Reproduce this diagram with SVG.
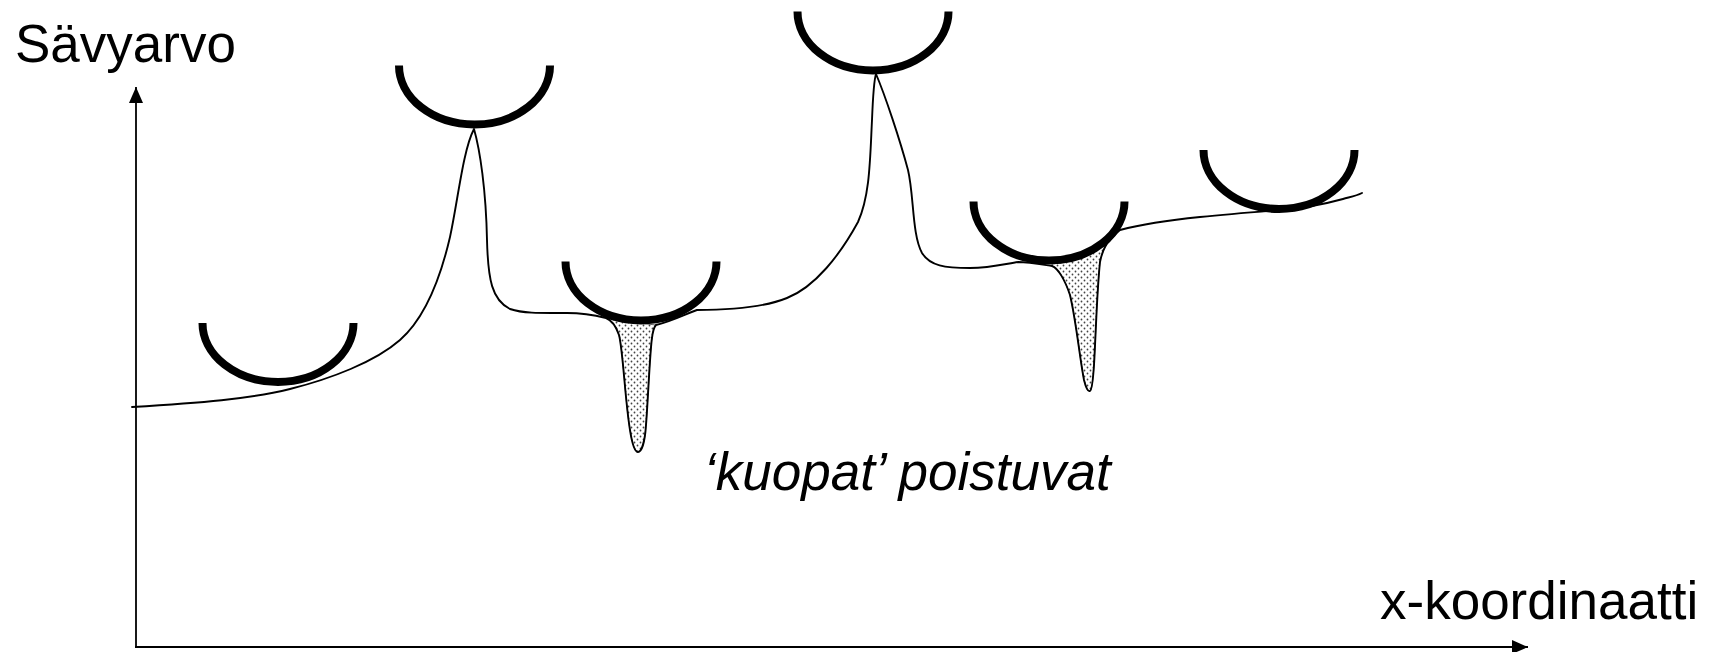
<svg xmlns="http://www.w3.org/2000/svg" width="1713" height="652" viewBox="0 0 1713 652">
  <style>
    .lbl { font-family: "Liberation Sans", Arial, sans-serif; font-size: 53px; fill: #000; }
    .ital { font-style: italic; }
    .axis { stroke: #000; stroke-width: 1.8; fill: none; }
    .curve { stroke: #000; stroke-width: 1.9; fill: none; stroke-linejoin: round; stroke-linecap: round; }
    .ball { stroke: #000; stroke-width: 8; fill: none; stroke-linecap: butt; }
    .pit { fill: url(#dots); stroke: #000; stroke-width: 0.6; }
  </style>
  <defs>
    <marker id="arrow" viewBox="0 0 16 14" refX="16" refY="7" markerWidth="16" markerHeight="14" markerUnits="userSpaceOnUse" orient="auto">
      <path d="M0,0 L16,7 L0,14 Z" fill="#000"/>
    </marker>
    <pattern id="dots" width="6" height="6" patternUnits="userSpaceOnUse">
      <rect width="6" height="6" fill="#fff"/>
      <circle cx="1.5" cy="1.5" r="0.9" fill="#444"/>
      <circle cx="4.5" cy="4.5" r="0.9" fill="#444"/>
    </pattern>
  </defs>
  <rect width="1713" height="652" fill="#fff"/>

  <g id="axes">
    <line class="axis" x1="136" y1="648" x2="136" y2="87" marker-end="url(#arrow)"/>
    <line class="axis" x1="135" y1="647" x2="1528" y2="647" marker-end="url(#arrow)"/>
  </g>

  <g id="pits">
    <path class="pit" d="M606,318 C611,320 616,326 619,335 C623,350 625,400 630,430 C632,443 635,452 638,452 C642,452 645,440 646,425 C648,400 650,350 652,338 C653,330 654,327 656,325 Q632,323 606,318 Z"/>
    <path class="pit" d="M1052,266 C1058,268 1065,280 1070,295 C1076,320 1080,360 1084,380 C1086,388 1088,392 1090,391 C1092,390 1093,380 1094,365 C1096,330 1097,290 1100,262 C1102,252 1106,244 1110,240 Q1085,262 1052,264 Z"/>
  </g>

  <g id="curve">
    <path class="curve" d="M132,407 C200,403 250,399 290,389 C330,379 375,362 400,340 C425,318 440,280 450,237 C458,200 463,150 474,129 C480,150 486,190 487,240 C488,280 492,300 510,309 C525,314 545,313 567,313 C585,313 598,316 606,318 C611,320 616,326 619,335 C623,350 625,400 630,430 C632,443 635,452 638,452 C642,452 645,440 646,425 C648,400 650,350 652,338 C653,330 654,327 656,325 C670,322 686,314 697,310 C720,310 760,309 787,298 C815,287 840,255 858,222 C870,195 870,160 872,120 C873,95 874,80 876,74 C885,95 900,140 908,170 C914,195 912,235 922,253 C930,266 945,268 970,268 C990,268 1005,264 1018,262 C1030,262 1045,265 1052,266 C1058,268 1065,280 1070,295 C1076,320 1080,360 1084,380 C1086,388 1088,392 1090,391 C1092,390 1093,380 1094,365 C1096,330 1097,290 1100,262 C1102,252 1106,244 1110,240 C1113,236 1116,233 1120,230 C1135,226 1160,221 1200,217 C1230,214 1255,212 1280,210 C1305,208 1325,204 1343,199 C1350,197 1356,196 1362,193"/>
  </g>

  <g id="ball1"><path class="ball" d="M202.5,323 A75.5,59 0 0 0 353.5,323"/></g>
  <g id="ball2"><path class="ball" d="M399,65.5 A75.5,59 0 0 0 550,65.5"/></g>
  <g id="ball3"><path class="ball" d="M565.5,261.5 A75.5,59 0 0 0 716.5,261.5"/></g>
  <g id="ball4"><path class="ball" d="M797.5,11.5 A75.5,59 0 0 0 948.5,11.5"/></g>
  <g id="ball5"><path class="ball" d="M973.5,201.5 A75.5,59 0 0 0 1124.5,201.5"/></g>
  <g id="ball6"><path class="ball" d="M1203.5,150 A75.5,59 0 0 0 1354.5,150"/></g>

  <g id="labels">
    <text class="lbl" x="15" y="62">Sävyarvo</text>
    <text class="lbl ital" x="704" y="490">‘kuopat’ poistuvat</text>
    <text class="lbl" x="1380" y="619">x-koordinaatti</text>
  </g>
</svg>
